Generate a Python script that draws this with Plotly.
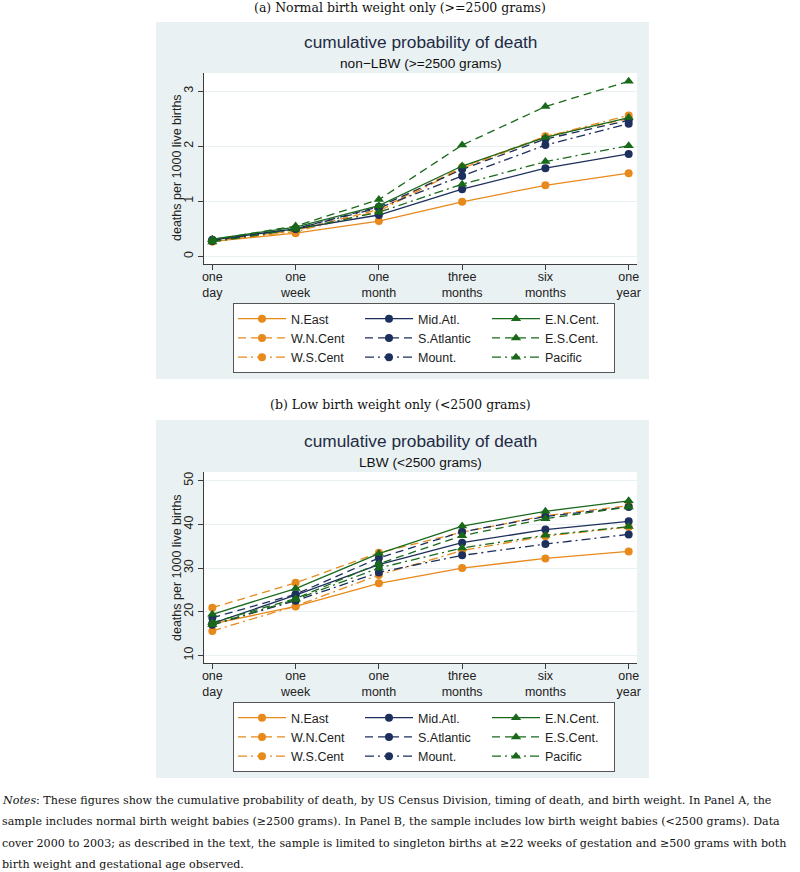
import plotly.graph_objects as go

# ---------------- data ----------------
periods = ["one<br>day", "one<br>week", "one<br>month", "three<br>months", "six<br>months", "one<br>year"]
divisions = ["N.East", "Mid.Atl.", "E.N.Cent.", "W.N.Cent", "S.Atlantic", "E.S.Cent.", "W.S.Cent", "Mount.", "Pacific"]

# Panel A: non-LBW (>=2500 grams), deaths per 1000 live births
a_neast     = [0.27, 0.42, 0.64, 0.99, 1.29, 1.51]
a_midatl    = [0.30, 0.50, 0.75, 1.22, 1.60, 1.86]
a_encent    = [0.31, 0.53, 0.92, 1.64, 2.16, 2.52]
a_wncent    = [0.28, 0.47, 0.85, 1.62, 2.18, 2.50]
a_satlantic = [0.29, 0.50, 0.90, 1.58, 2.13, 2.47]
a_escent    = [0.30, 0.55, 1.03, 2.02, 2.72, 3.18]
a_wscent    = [0.27, 0.45, 0.82, 1.60, 2.17, 2.56]
a_mount     = [0.28, 0.50, 0.88, 1.46, 2.02, 2.41]
a_pacific   = [0.26, 0.49, 0.80, 1.31, 1.72, 2.01]

# Panel B: LBW (<2500 grams)
b_neast     = [17.2, 21.2, 26.5, 30.0, 32.2, 33.8]
b_midatl    = [17.3, 23.8, 30.8, 35.8, 38.8, 40.7]
b_encent    = [19.4, 25.3, 33.3, 39.6, 43.0, 45.4]
b_wncent    = [20.9, 26.6, 33.5, 38.2, 42.0, 44.3]
b_satlantic = [18.6, 24.0, 32.3, 38.3, 41.8, 44.0]
b_escent    = [17.5, 23.0, 31.0, 37.4, 41.3, 44.0]
b_wscent    = [15.6, 21.3, 28.4, 34.0, 37.3, 39.4]
b_mount     = [17.0, 22.5, 29.0, 32.9, 35.5, 37.7]
b_pacific   = [17.0, 22.8, 30.0, 34.6, 37.5, 39.5]

a_ticks = [0, 1, 2, 3]
b_ticks = [10, 20, 30, 40, 50]

panel_a_series = [a_neast, a_midatl, a_encent, a_wncent, a_satlantic, a_escent, a_wscent, a_mount, a_pacific]
panel_b_series = [b_neast, b_midatl, b_encent, b_wncent, b_satlantic, b_escent, b_wscent, b_mount, b_pacific]

# ---------------- styles ----------------
ORANGE = "#E8891B"
NAVY = "#1D2F5C"
GREEN = "#19691A"
SOLID = "solid"
DASH = "8px,5px"
DASHDOT = "9px,4px,2px,4px"
styles = [
    (ORANGE, SOLID, "circle", "g1"), (NAVY, SOLID, "circle", "g2"), (GREEN, SOLID, "triangle-up", "g3"),
    (ORANGE, DASH, "circle", "g1"), (NAVY, DASH, "circle", "g2"), (GREEN, DASH, "triangle-up", "g3"),
    (ORANGE, DASHDOT, "circle", "g1"), (NAVY, DASHDOT, "circle", "g2"), (GREEN, DASHDOT, "triangle-up", "g3"),
]
# order of traces: grouped by legend column
order = [0, 3, 6, 1, 4, 7, 2, 5, 8]

W, H = 800, 872
def px(x): return x / W
def py(y): return 1 - y / H

FONT = "Liberation Sans, Arial, sans-serif"
SERIF = "DejaVu Serif, Liberation Serif, serif"
BOXBG = "#EAF1F3"

fig = go.Figure()
xs = list(range(len(periods)))
for panel, series, xa, ya, leg in [("A", panel_a_series, "x", "y", "legend"),
                                   ("B", panel_b_series, "x2", "y2", "legend2")]:
    for i in order:
        name, vals = divisions[i], series[i]
        col, dash, sym, grp = styles[i]
        fig.add_trace(go.Scatter(
            x=xs, y=vals, name=name, mode="lines+markers",
            line=dict(color=col, width=1.3, dash=dash),
            marker=dict(color=col, symbol=sym, size=8 if sym == "circle" else 9),
            xaxis=xa, yaxis=ya, legend=leg, legendgroup=panel + grp, showlegend=True,
        ))

axis_common = dict(showline=True, linecolor="#3C3C3C", linewidth=1, ticks="outside",
                   ticklen=5, tickcolor="#3C3C3C", tickfont=dict(family=FONT, size=12.5, color="#222"),
                   zeroline=False, mirror=False)

legend_common = dict(orientation="h", xanchor="left", yanchor="top", traceorder="grouped",
                     entrywidth=64, entrywidthmode="pixels", itemwidth=48,
                     bgcolor="white", bordercolor="#555", borderwidth=1,
                     font=dict(family=FONT, size=12.5, color="#222"), tracegroupgap=0)

xdom = [px(204), px(637)]
fig.update_layout(
    width=W, height=H, margin=dict(l=0, r=0, t=0, b=0, autoexpand=False),
    paper_bgcolor="white", plot_bgcolor="white",
    xaxis=dict(domain=xdom, anchor="y", range=[-0.1, 5.1], tickvals=xs, ticktext=periods,
               showgrid=False, **axis_common),
    yaxis=dict(domain=[py(264), py(73)], anchor="x", range=[-0.14, 3.33], tickvals=a_ticks,
               tickangle=-90, showgrid=True, gridcolor="#EAF1F3", gridwidth=1, **axis_common),
    xaxis2=dict(domain=xdom, anchor="y2", range=[-0.1, 5.1], tickvals=xs, ticktext=periods,
                showgrid=False, **axis_common),
    yaxis2=dict(domain=[py(663), py(472)], anchor="x2", range=[8.24, 52.0], tickvals=b_ticks,
                tickangle=-90, showgrid=True, gridcolor="#EAF1F3", gridwidth=1, **axis_common),
    legend=dict(x=px(233), y=py(303), **legend_common),
    legend2=dict(x=px(233), y=py(702), **legend_common),
)
# pull the two-line x tick labels a little closer to the axis
try:
    fig.update_layout(xaxis_ticklabelstandoff=-4, xaxis2_ticklabelstandoff=-4)
except Exception:
    pass

# background boxes
shapes = []
for (y0, y1) in [(22, 379), (420, 778)]:
    shapes.append(dict(type="rect", xref="paper", yref="paper", x0=px(156), x1=px(649),
                       y0=py(y1), y1=py(y0), fillcolor=BOXBG, line=dict(width=0), layer="below"))
for (y0, y1) in [(73, 264), (472, 663)]:
    shapes.append(dict(type="rect", xref="paper", yref="paper", x0=px(204), x1=px(637),
                       y0=py(y1), y1=py(y0), fillcolor="white", line=dict(width=0), layer="below"))
fig.update_layout(shapes=shapes)

ann = []
def text(x, y, s, size, family=FONT, color="#222", xanchor="center", angle=0):
    ann.append(dict(x=px(x), y=py(y), xref="paper", yref="paper", text=s, showarrow=False,
                    xanchor=xanchor, yanchor="middle", textangle=angle,
                    font=dict(family=family, size=size, color=color)))

cx = (204 + 637) / 2
text(400, 8, "(a) Normal birth weight only (>=2500 grams)", 12.5, SERIF, "#111")
text(cx, 42, "cumulative probability of death", 17.3, FONT, "#1E2B44")
text(cx, 63, "non−LBW (>=2500 grams)", 13.7, FONT, "#111")
text(177, 168, "deaths per 1000 live births", 12.5, FONT, "#222", angle=-90)
text(400, 405, "(b) Low birth weight only (<2500 grams)", 12.5, SERIF, "#111")
text(cx, 441, "cumulative probability of death", 17.3, FONT, "#1E2B44")
text(cx, 462, "LBW (<2500 grams)", 13.7, FONT, "#111")
text(177, 568, "deaths per 1000 live births", 12.5, FONT, "#222", angle=-90)

notes = [
    "<i>Notes</i>: These figures show the cumulative probability of death, by US Census Division, timing of death, and birth weight. In Panel A, the",
    "sample includes normal birth weight babies (≥2500 grams). In Panel B, the sample includes low birth weight babies (<2500 grams). Data",
    "cover 2000 to 2003; as described in the text, the sample is limited to singleton births at ≥22 weeks of gestation and ≥500 grams with both",
    "birth weight and gestational age observed.",
]
for i, line in enumerate(notes):
    text(0, 800 + i * 21.6, line, 11.1, SERIF, "#111", xanchor="left")
fig.update_layout(annotations=ann)

post = "document.body.style.margin='0';document.body.style.padding='0';"
fig.write_html("out.html", post_script=post, config={"displayModeBar": False})
